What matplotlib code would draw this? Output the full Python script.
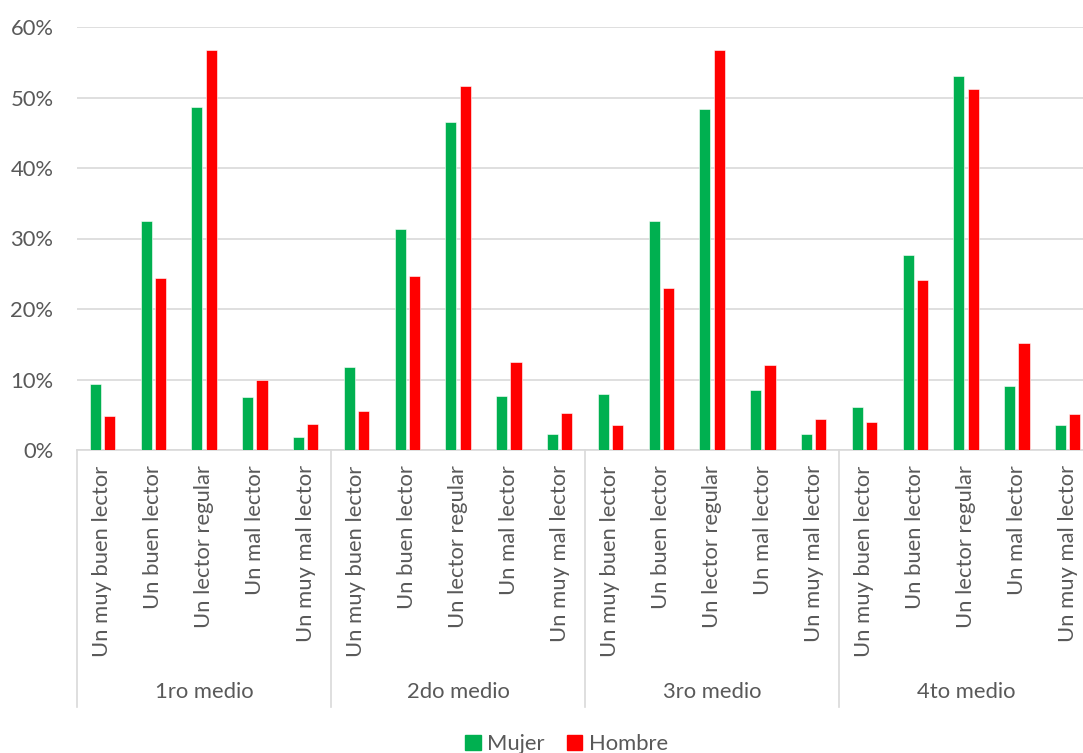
import matplotlib
matplotlib.use("Agg")
import matplotlib.pyplot as plt
import matplotlib.transforms as mtransforms
from matplotlib.patches import Patch
from matplotlib.ticker import FuncFormatter
import numpy as np

GREEN = "#00B050"
RED = "#FF0000"
TXT = "#595959"
GRID = "#d9d9d9"

groups = ["1ro medio", "2do medio", "3ro medio", "4to medio"]
levels = ["Un muy buen lector", "Un buen lector", "Un lector regular",
          "Un mal lector", "Un muy mal lector"]

# percent, per group in level order
mujer = [9.4, 32.5, 48.6, 7.5, 1.9,
         11.8, 31.4, 46.5, 7.7, 2.2,
         7.9, 32.5, 48.4, 8.5, 2.3,
         6.1, 27.7, 53.1, 9.1, 3.6]
hombre = [4.8, 24.4, 56.8, 10.0, 3.7,
          5.5, 24.7, 51.7, 12.5, 5.2,
          3.5, 23.0, 56.7, 12.1, 4.4,
          4.0, 24.1, 51.2, 15.2, 5.1]

FS = 15.8
plt.rcParams.update({"font.family": ["Lato", "DejaVu Sans"], "text.color": TXT,
                     "xtick.color": TXT, "ytick.color": TXT})

fig = plt.figure(figsize=(10.83, 7.53), dpi=100)
ax = fig.add_axes([77 / 1083, 303 / 753, 1016 / 1083, 423 / 753])

x = np.arange(len(mujer))
w = 0.22
ax.bar(x - 0.14, mujer, width=w, color=GREEN, edgecolor="white", linewidth=0.4, zorder=3)
ax.bar(x + 0.14, hombre, width=w, color=RED, edgecolor="white", linewidth=0.4, zorder=3)

ax.set_xlim(-0.5, len(mujer) - 0.5)
ax.set_ylim(0, 60)
ax.set_yticks(range(0, 61, 10))
ax.yaxis.set_major_formatter(FuncFormatter(lambda v, _: f"{int(v)}%"))
ax.grid(axis="y", color=GRID, lw=1.2, zorder=0)
ax.set_xticks(x)
ax.set_xticklabels(levels * len(groups), rotation=90, va="top", ha="center")
ax.tick_params(axis="x", length=0, pad=11, labelsize=FS)
ax.tick_params(axis="y", length=0, pad=17, labelsize=FS)
for s in ("top", "right", "left"):
    ax.spines[s].set_visible(False)
ax.spines["bottom"].set_color(GRID)
ax.spines["bottom"].set_linewidth(1.2)

trans = mtransforms.blended_transform_factory(ax.transData, ax.transAxes)
low = (450 - 707) / 423
for i in range(len(groups) + 1):
    xb = i * len(levels) - 0.5
    ax.plot([xb, xb], [0, low], transform=trans, color=GRID, lw=1.2, clip_on=False)
for i, g in enumerate(groups):
    ax.text(i * len(levels) + 2, (450 - 692) / 423, g, transform=trans,
            ha="center", va="center", fontsize=FS, color=TXT)

handles = [Patch(color=GREEN, label="Mujer"), Patch(color=RED, label="Hombre")]
fig.legend(handles=handles, loc="lower center", bbox_to_anchor=(0.523, -0.028), ncol=2,
           frameon=False, fontsize=FS, handlelength=0.7, handleheight=0.7,
           handletextpad=0.3, columnspacing=1.0)

fig.savefig("out.png", dpi=100, facecolor="white")
